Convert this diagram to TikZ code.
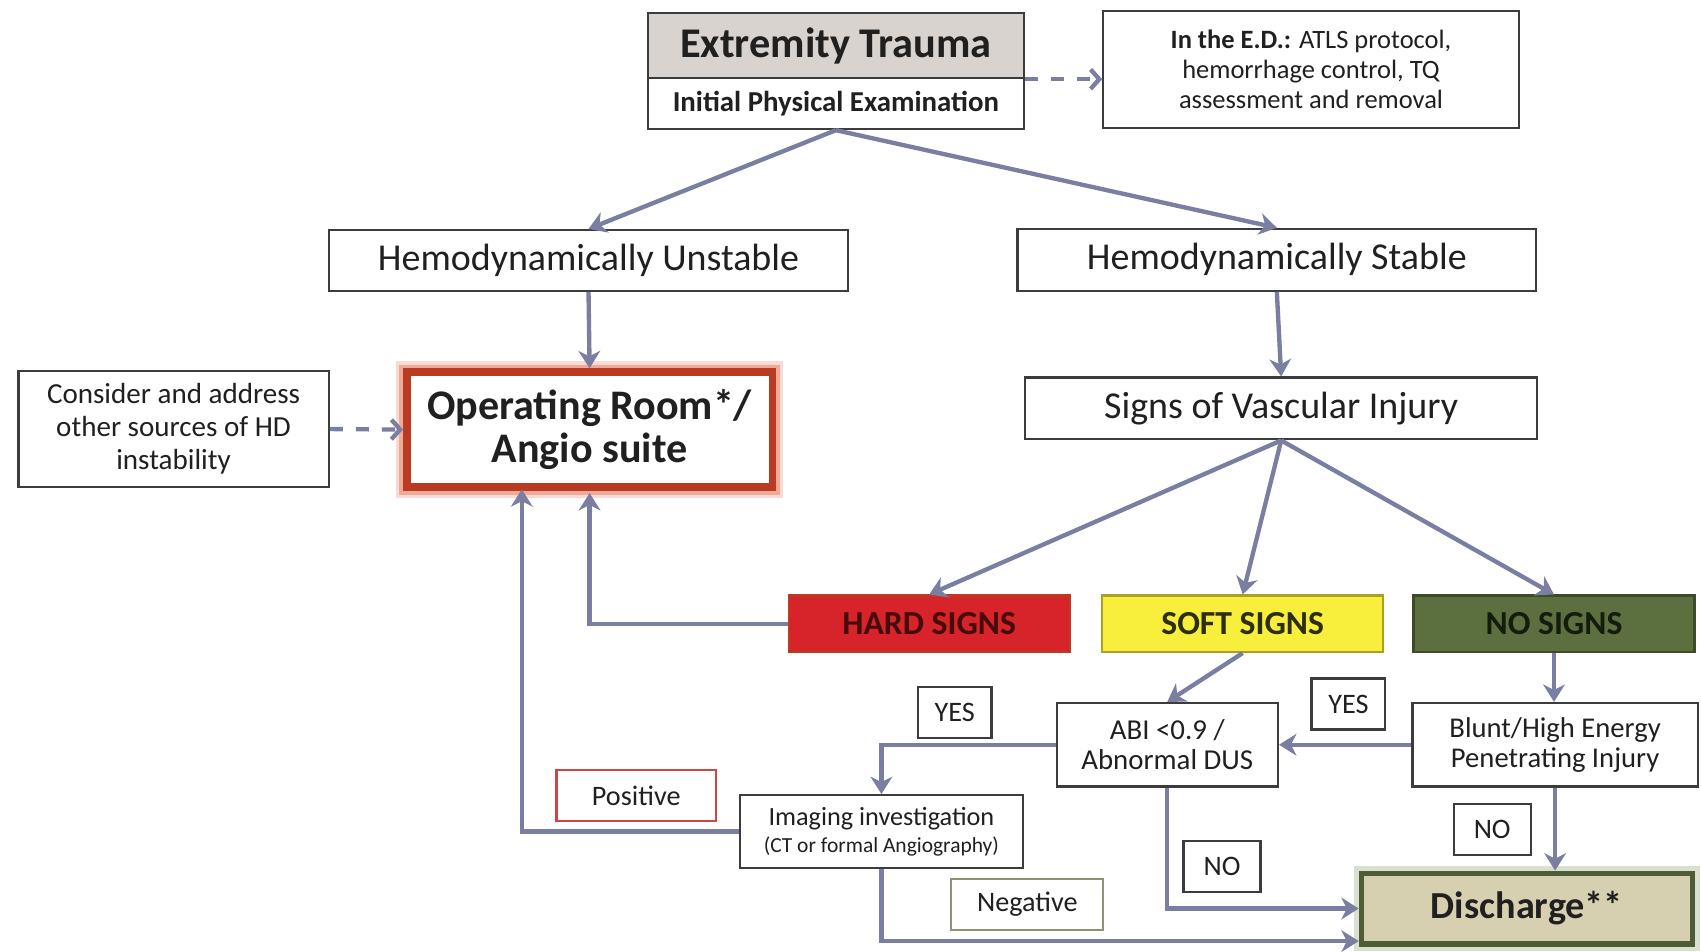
\documentclass[tikz,border=0pt]{standalone}
\usepackage{fontspec}
\setmainfont{Carlito}
\usetikzlibrary{arrows.meta,calc}
\definecolor{arrc}{RGB}{122,127,162}
\definecolor{boxc}{RGB}{60,60,60}
\definecolor{txt}{RGB}{32,32,32}
\definecolor{headfill}{RGB}{216,211,207}
\definecolor{hardfill}{RGB}{214,36,42}
\definecolor{softfill}{RGB}{247,239,60}
\definecolor{nofill}{RGB}{92,111,63}
\definecolor{orred}{RGB}{186,58,34}
\definecolor{orglow}{RGB}{230,110,80}
\definecolor{discfill}{RGB}{214,208,176}
\definecolor{discdraw}{RGB}{78,93,54}
\definecolor{discglow}{RGB}{150,165,120}
\definecolor{posc}{RGB}{205,70,70}
\definecolor{negc}{RGB}{140,146,115}
\tikzset{
  fs/.style n args={2}{font=\fontsize{#1}{#2}\selectfont},
  box/.style={draw=boxc, line width=1pt, fill=white, align=center, inner sep=0pt, text=txt},
  arr/.style={draw=arrc, line width=2pt, -{Stealth[length=8pt,width=10pt,inset=2.5pt]}},
  dasharr/.style={draw=arrc, line width=2pt, dash pattern=on 6pt off 6pt, -{Straight Barb[length=4pt,width=9pt,line width=2pt]}},
  sign/.style={box, line width=1pt, minimum width=129.5pt, minimum height=26pt, font=\fontsize{15.5}{16}\selectfont\bfseries},
  lab/.style={box, minimum width=34pt, minimum height=23.5pt, fs={13}{14}},
}
\begin{document}
\begin{tikzpicture}[x=0.5pt,y=-0.5pt]
\useasboundingbox (0,0) rectangle (1568,877);
% top
\node[box, fill=headfill, minimum width=173.5pt, minimum height=30pt, font=\fontsize{19.5}{20}\selectfont\bfseries] (head) at (770.5,42) {Extremity Trauma};
\node[box, minimum width=173.5pt, minimum height=23.5pt, font=\fontsize{13.3}{14}\selectfont\bfseries] (sub) at (770.5,95.5) {Initial Physical Examination};
\node[box, minimum width=191.5pt, minimum height=54pt, fs={12.2}{14}] (ed) at (1208.5,64) {\textbf{In the E.D.:} ATLS protocol,\\hemorrhage control, TQ\\assessment and removal};
\node[box, minimum width=239.5pt, minimum height=28pt, fs={17.5}{18}] (unst) at (542.5,240) {Hemodynamically Unstable};
\node[box, minimum width=239pt, minimum height=28.5pt, fs={17.5}{18}] (stab) at (1177,239.5) {Hemodynamically Stable};
\node[box, draw=orred, line width=3.5pt, preaction={draw=orglow, line width=10pt, opacity=0.25}, preaction={draw=orglow, line width=7pt, opacity=0.45}, minimum width=168.5pt, minimum height=53pt, font=\fontsize{19.4}{19.5}\selectfont\bfseries] (or) at (543.5,396) {Operating Room*/\\Angio suite};
\node[box, minimum width=143pt, minimum height=53.5pt, fs={13.4}{15.2}] (cons) at (160,395.5) {Consider and address\\other sources of HD\\instability};
\node[box, minimum width=236pt, minimum height=28.5pt, fs={17.5}{18}] (signs) at (1181,376.5) {Signs of Vascular Injury};
\node[sign, fill=hardfill, draw=orred, text={rgb,255:red,70;green,12;blue,12}] (hard) at (856.5,575) {HARD SIGNS};
\node[sign, fill=softfill, draw={rgb,255:red,170;green,160;blue,40}, text={rgb,255:red,45;green,45;blue,15}] (soft) at (1145.5,575) {SOFT SIGNS};
\node[sign, fill=nofill, draw={rgb,255:red,60;green,75;blue,40}, text={rgb,255:red,20;green,28;blue,12}] (nos) at (1432.5,575) {NO SIGNS};
\node[box, minimum width=102pt, minimum height=38.5pt, fs={13.3}{14}] (abi) at (1076,686.5) {ABI <0.9 /\\Abnormal DUS};
\node[box, minimum width=131.5pt, minimum height=38.5pt, fs={13.2}{14}] (blunt) at (1433.5,686.5) {Blunt/High Energy\\Penetrating Injury};
\node[box, minimum width=130.5pt, minimum height=33.5pt, fs={12.1}{12.5}] (img) at (812.5,766.5) {Imaging investigation\\{\fontsize{9.9}{12.5}\selectfont (CT or formal Angiography)}};
\node[box, fill=discfill, draw=discdraw, line width=2.5pt, preaction={draw=discglow, line width=7pt, opacity=0.35}, minimum width=152.5pt, minimum height=32.5pt, font=\fontsize{17.6}{18}\selectfont\bfseries] (disc) at (1407.5,837.5) {Discharge**};
% labels
\node[lab] (yes1) at (880,656.5) {YES};
\node[lab] (yes2) at (1243,649) {YES};
\node[lab, draw=posc, minimum width=73.5pt] (pos) at (586.5,733.5) {Positive};
\node[lab, draw=negc, minimum width=70pt] (neg) at (947,833.5) {Negative};
\node[lab, minimum width=35.5pt] (no1) at (1126.5,799) {NO};
\node[lab, minimum width=35.5pt] (no2) at (1375.5,765) {NO};
\coordinate (orp) at (481,451);
\coordinate (discb) at ($(disc.south west)+(0,-5)$);
% connectors
\draw[dasharr] (head.south east) -- (head.south east -| ed.west);
\draw[dasharr] (cons.east) -- (or.west);
\draw[arr] (sub.south) -- (unst.north);
\draw[arr] (sub.south) -- (stab.north);
\draw[arr] (unst.south) -- (or.north);
\draw[arr] (stab.south) -- (signs.north);
\draw[arr] (signs.south) -- (hard.north);
\draw[arr] (signs.south) -- (soft.north);
\draw[arr] (signs.south) -- (nos.north);
\draw[arr] (hard.west) -| ([yshift=-1pt]or.south);
\draw[arr] (soft.south) -- (abi.north);
\draw[arr] (nos.south) -- (nos.south |- blunt.north);
\draw[arr] (blunt.west) -- (abi.east);
\draw[arr] (abi.west) -| (img.north);
\draw[arr] (img.west) -| (orp);
\draw[arr] (img.south) |- (discb);
\draw[arr] (abi.south) |- (disc.west);
\draw[arr] (blunt.south) -- (blunt.south |- disc.north);
\end{tikzpicture}
\end{document}
